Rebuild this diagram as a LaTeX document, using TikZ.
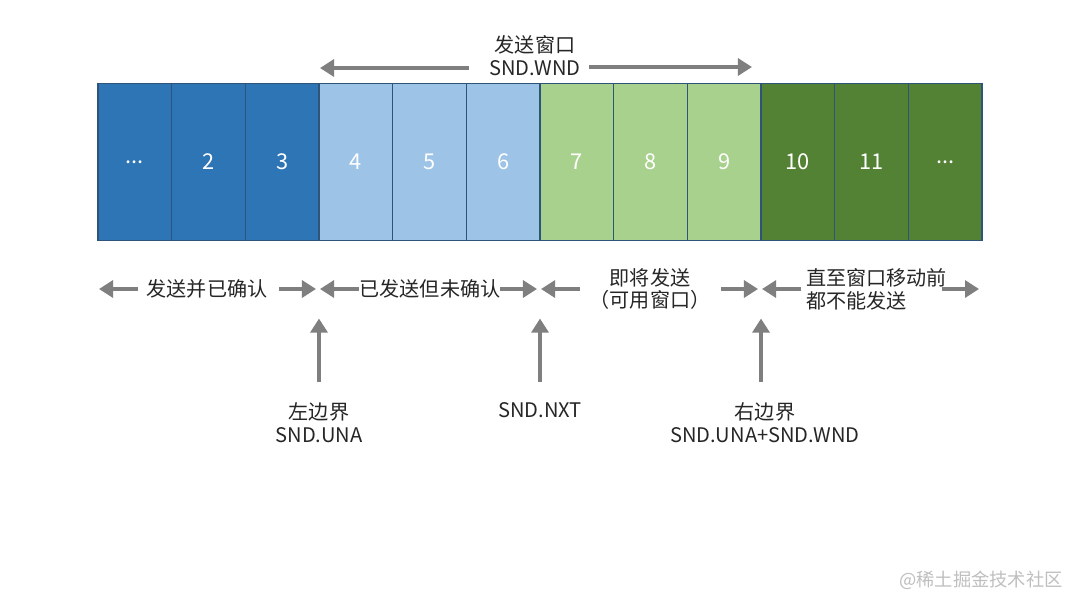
\documentclass[tikz,border=0pt]{standalone}
\usepackage{fontspec}
\setmainfont{Noto Sans CJK SC}
\usepackage{xcolor}
\usetikzlibrary{arrows.meta,calc}
\definecolor{ackblue}{HTML}{2E75B6}
\definecolor{sentblue}{HTML}{9DC3E6}
\definecolor{freegreen}{HTML}{A9D18E}
\definecolor{waitgreen}{HTML}{548235}
\definecolor{cellline}{HTML}{2F5479}
\definecolor{fatgray}{HTML}{7F7F7F}
\definecolor{labtext}{HTML}{262626}
\newcommand{\celldots}{...}

\begin{document}
\begin{tikzpicture}[x=0.025cm,y=-0.025cm,
        cell/.style={minimum width=1.842cm,minimum height=3.925cm,
            inner sep=0pt,outer sep=0pt,text=white,font=\fontsize{15.5}{18}\selectfont},
        lab/.style={text=labtext,align=center,inner sep=0pt,font=\fontsize{14.3}{16.3}\selectfont},
        fat/.style={draw=fatgray,line width=3.2pt,-{Triangle[length=10pt,width=12pt]}}]
                \useasboundingbox[fill=white] (0,0) rectangle (1080,608);
                \foreach \lab/\col [count=\i] in {\celldots/ackblue,2/ackblue,3/ackblue,4/sentblue,5/sentblue,6/sentblue,
                        7/freegreen,8/freegreen,9/freegreen,10/waitgreen,11/waitgreen,\celldots/waitgreen}
                    \node[cell,fill=\col] (c\i) at ({98+(\i-0.5)*73.67},162) {\lab};
                \foreach \i in {1,...,12}
                    \draw[cellline,line width=0.9pt] (c\i.north west) rectangle (c\i.south east);
                \node[lab] (wnd) at (535,56) {发送窗口\\SND.WND};
                \coordinate (wndL) at (320,68);
                \coordinate (wndR) at (752,67);
                \draw[fat] (wnd.west |- wndL) ++(-20,0) -- (wndL);
                \draw[fat] (wnd.east |- wndR) ++(8,0) -- (wndR);
                \coordinate (row) at (0,289);
                \node[lab] (acked) at (207,289) {发送并已确认};
                \node[lab] (unacked) at (430,289) {已发送但未确认};
                \node[lab] (usable) at (650,289) {即将发送\\（可用窗口）};
                \node[lab,anchor=west,align=left] (blocked) at (806,289) {直至窗口移动前\\都不能发送};
                \foreach \i/\j in {1/3,4/6,7/9,10/12} {
                    \draw[fat] ($(c\i.west |- row)+(40,0)$) -- ($(c\i.west |- row)+(1,0)$);
                    \draw[fat] ($(c\j.east |- row)+(-40,0)$) -- ($(c\j.east |- row)+(-3,0)$);
                }
                \node[lab,anchor=north] (una) at (c4.south west |- 0,402) {左边界\\SND.UNA};
                \node[lab,anchor=north] (nxt) at (c7.south west |- 0,402) {SND.NXT};
                \node[lab,anchor=north] (rbound) at ([xshift=0.1cm]c10.south west |- 0,402) {右边界\\SND.UNA+SND.WND};
                \draw[fat] ([yshift=0.5cm]una.north) -- ([yshift=-1.95cm]c4.south west);
                \draw[fat] ([yshift=0.5cm]nxt.north) -- ([yshift=-1.95cm]c7.south west);
                \draw[fat] ([yshift=0.5cm]rbound.north -| c10.west) -- ([yshift=-1.95cm]c10.south west);
                \node[anchor=east,text=black!25,inner sep=0pt,font=\fontsize{13}{15}\selectfont] (mark) at (1063,580) {@稀土掘金技术社区};
            \end{tikzpicture}
\end{document}
